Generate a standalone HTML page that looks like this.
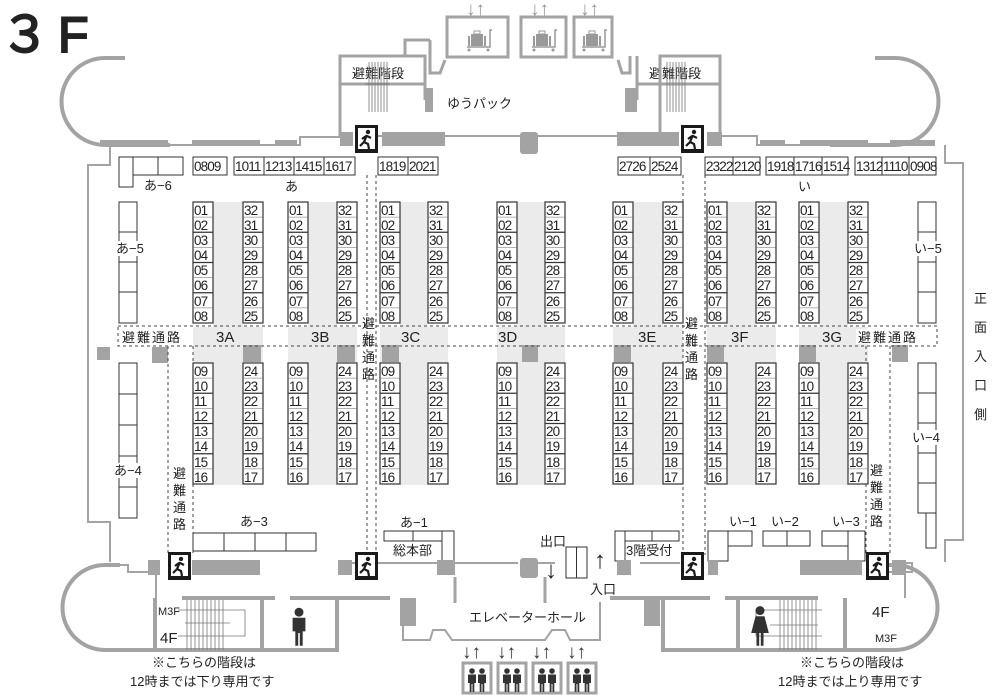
<!DOCTYPE html>
<html><head><meta charset="utf-8"><style>
html,body{margin:0;padding:0;background:#fff;}
svg{display:block;font-family:"Liberation Sans","Noto Sans CJK JP",sans-serif;}
.n{font-size:13.5px;fill:#222;letter-spacing:-0.9px}
.t{font-size:13px;fill:#222}
.w{stroke:#a3a3a3;fill:none}
</style></head><body>
<svg width="1000" height="695" viewBox="0 0 1000 695" xmlns="http://www.w3.org/2000/svg">
<defs>
<g id="col">
<rect x="0" y="0" width="20" height="121" fill="#fff" stroke="#333" stroke-width="1.2"/>
<path d="M0 30.25H20M0 60.5H20M0 90.75H20" stroke="#333" stroke-width="1.2"/>
<path d="M0 15.1H20M0 45.4H20M0 75.6H20M0 105.9H20" stroke="#666" stroke-width="0.5"/>
</g>
<g id="exit">
<rect x="0" y="0" width="23" height="28" fill="#1a1a1a"/>
<rect x="3" y="3" width="17" height="21" fill="#fff"/>
<circle cx="13" cy="7" r="2.2" fill="#1a1a1a"/>
<path d="M12 10 L9 17 L5 21 M9 17 L13 19 L14 24 M11 11 L7 14 M12 11 L16 13" stroke="#1a1a1a" stroke-width="2.2" fill="none"/>
</g>
<g id="lug">
<rect x="-9" y="-6" width="12" height="12" fill="#999"/><rect x="-6" y="-9" width="6" height="3" fill="none" stroke="#999"/>
<rect x="-12" y="-4" width="2" height="10" fill="#999"/><rect x="4" y="-4" width="2" height="10" fill="#999"/>
<path d="M-13 7H10V-10H12" stroke="#999" stroke-width="1.5" fill="none"/>
<circle cx="-11" cy="10" r="1.5" fill="#999"/><circle cx="8" cy="10" r="1.5" fill="#999"/>
</g>
<g id="man"><circle cx="0" cy="-8" r="2.8" fill="#333"/><path d="M-4 -4.5H4V4H2.3V13H0.5V5H-0.5V13H-2.3V4H-4Z" fill="#333"/></g>
<g id="lift"><rect x="0" y="0" width="28" height="30" fill="none" stroke="#a3a3a3" stroke-width="3"/><use href="#man" x="9" y="16"/><use href="#man" x="19" y="16"/>
<text x="-1" y="-5" font-size="19" font-weight="bold" fill="#333">↓↑</text></g>
</defs>

<!-- title -->
<text x="0" y="52" font-size="50" fill="#222" stroke="#222" stroke-width="2" letter-spacing="8">３F</text>

<g fill="#ebebeb">
<rect x="213" y="202" width="30" height="283"/><rect x="193" y="327" width="70" height="36"/>
<rect x="308" y="202" width="29" height="283"/><rect x="288" y="327" width="69" height="36"/>
<rect x="400" y="202" width="28" height="283"/><rect x="380" y="327" width="68" height="36"/>
<rect x="517" y="202" width="28" height="283"/><rect x="497" y="327" width="68" height="36"/>
<rect x="633" y="202" width="30" height="283"/><rect x="613" y="327" width="70" height="36"/>
<rect x="727" y="202" width="29" height="283"/><rect x="707" y="327" width="69" height="36"/>
<rect x="819" y="202" width="29" height="283"/><rect x="799" y="327" width="69" height="36"/>
</g>
<g fill="#a3a3a3">
<rect x="243" y="345" width="18" height="17"/><rect x="337" y="345" width="18" height="17"/>
<rect x="382" y="345" width="17" height="17"/><rect x="522" y="345" width="16" height="17"/>
<rect x="614" y="345" width="17" height="17"/><rect x="707" y="345" width="17" height="17"/>
<rect x="799" y="345" width="17" height="17"/><rect x="892" y="345" width="16" height="17"/>
<rect x="97" y="347" width="13" height="13"/><rect x="152" y="347" width="16" height="16"/>
</g>

<g stroke="#444" stroke-width="1" stroke-dasharray="3,3" fill="none">
<path d="M118 326H937V346H118Z"/>
<path d="M367 175V555M376 175V555M683 175V555M705 175V555"/>
<path d="M168 346V555M193 346V555M866 346V555M890 346V555"/>
</g>
<rect x="120" y="329" width="72" height="15" fill="#fff"/>
<text x="122" y="342" class="t" letter-spacing="2">避難通路</text>
<rect x="856" y="329" width="78" height="15" fill="#fff"/>
<text x="858" y="342" class="t" letter-spacing="2">避難通路</text>
<g class="t">
<text x="362" y="328">避</text><text x="362" y="345">難</text><text x="362" y="362">通</text><text x="362" y="379">路</text>
<text x="685" y="328">避</text><text x="685" y="345">難</text><text x="685" y="362">通</text><text x="685" y="379">路</text>
<text x="173" y="478">避</text><text x="173" y="495">難</text><text x="173" y="512">通</text><text x="173" y="529">路</text>
<text x="870" y="475">避</text><text x="870" y="492">難</text><text x="870" y="509">通</text><text x="870" y="526">路</text>
</g>
<g font-size="15" fill="#222">
<text x="216" y="342">3A</text><text x="311" y="342">3B</text><text x="401" y="342">3C</text>
<text x="498" y="342">3D</text><text x="638" y="342">3E</text><text x="731" y="342">3F</text><text x="822" y="342">3G</text>
</g>

<g>
<use href="#col" x="193" y="202"/><use href="#col" x="243" y="202"/><use href="#col" x="193" y="363"/><use href="#col" x="243" y="363"/>
<use href="#col" x="288" y="202"/><use href="#col" x="337" y="202"/><use href="#col" x="288" y="363"/><use href="#col" x="337" y="363"/>
<use href="#col" x="380" y="202"/><use href="#col" x="428" y="202"/><use href="#col" x="380" y="363"/><use href="#col" x="428" y="363"/>
<use href="#col" x="497" y="202"/><use href="#col" x="545" y="202"/><use href="#col" x="497" y="363"/><use href="#col" x="545" y="363"/>
<use href="#col" x="613" y="202"/><use href="#col" x="663" y="202"/><use href="#col" x="613" y="363"/><use href="#col" x="663" y="363"/>
<use href="#col" x="707" y="202"/><use href="#col" x="756" y="202"/><use href="#col" x="707" y="363"/><use href="#col" x="756" y="363"/>
<use href="#col" x="799" y="202"/><use href="#col" x="848" y="202"/><use href="#col" x="799" y="363"/><use href="#col" x="848" y="363"/>
</g>
<g class="n">
<text y="215"><tspan x="194">01</tspan><tspan x="289">01</tspan><tspan x="381">01</tspan><tspan x="498">01</tspan><tspan x="614">01</tspan><tspan x="708">01</tspan><tspan x="800">01</tspan><tspan x="244">32</tspan><tspan x="338">32</tspan><tspan x="429">32</tspan><tspan x="546">32</tspan><tspan x="664">32</tspan><tspan x="757">32</tspan><tspan x="849">32</tspan></text>
<text y="230"><tspan x="194">02</tspan><tspan x="289">02</tspan><tspan x="381">02</tspan><tspan x="498">02</tspan><tspan x="614">02</tspan><tspan x="708">02</tspan><tspan x="800">02</tspan><tspan x="244">31</tspan><tspan x="338">31</tspan><tspan x="429">31</tspan><tspan x="546">31</tspan><tspan x="664">31</tspan><tspan x="757">31</tspan><tspan x="849">31</tspan></text>
<text y="245"><tspan x="194">03</tspan><tspan x="289">03</tspan><tspan x="381">03</tspan><tspan x="498">03</tspan><tspan x="614">03</tspan><tspan x="708">03</tspan><tspan x="800">03</tspan><tspan x="244">30</tspan><tspan x="338">30</tspan><tspan x="429">30</tspan><tspan x="546">30</tspan><tspan x="664">30</tspan><tspan x="757">30</tspan><tspan x="849">30</tspan></text>
<text y="260"><tspan x="194">04</tspan><tspan x="289">04</tspan><tspan x="381">04</tspan><tspan x="498">04</tspan><tspan x="614">04</tspan><tspan x="708">04</tspan><tspan x="800">04</tspan><tspan x="244">29</tspan><tspan x="338">29</tspan><tspan x="429">29</tspan><tspan x="546">29</tspan><tspan x="664">29</tspan><tspan x="757">29</tspan><tspan x="849">29</tspan></text>
<text y="275"><tspan x="194">05</tspan><tspan x="289">05</tspan><tspan x="381">05</tspan><tspan x="498">05</tspan><tspan x="614">05</tspan><tspan x="708">05</tspan><tspan x="800">05</tspan><tspan x="244">28</tspan><tspan x="338">28</tspan><tspan x="429">28</tspan><tspan x="546">28</tspan><tspan x="664">28</tspan><tspan x="757">28</tspan><tspan x="849">28</tspan></text>
<text y="290"><tspan x="194">06</tspan><tspan x="289">06</tspan><tspan x="381">06</tspan><tspan x="498">06</tspan><tspan x="614">06</tspan><tspan x="708">06</tspan><tspan x="800">06</tspan><tspan x="244">27</tspan><tspan x="338">27</tspan><tspan x="429">27</tspan><tspan x="546">27</tspan><tspan x="664">27</tspan><tspan x="757">27</tspan><tspan x="849">27</tspan></text>
<text y="306"><tspan x="194">07</tspan><tspan x="289">07</tspan><tspan x="381">07</tspan><tspan x="498">07</tspan><tspan x="614">07</tspan><tspan x="708">07</tspan><tspan x="800">07</tspan><tspan x="244">26</tspan><tspan x="338">26</tspan><tspan x="429">26</tspan><tspan x="546">26</tspan><tspan x="664">26</tspan><tspan x="757">26</tspan><tspan x="849">26</tspan></text>
<text y="321"><tspan x="194">08</tspan><tspan x="289">08</tspan><tspan x="381">08</tspan><tspan x="498">08</tspan><tspan x="614">08</tspan><tspan x="708">08</tspan><tspan x="800">08</tspan><tspan x="244">25</tspan><tspan x="338">25</tspan><tspan x="429">25</tspan><tspan x="546">25</tspan><tspan x="664">25</tspan><tspan x="757">25</tspan><tspan x="849">25</tspan></text>
<text y="376"><tspan x="194">09</tspan><tspan x="289">09</tspan><tspan x="381">09</tspan><tspan x="498">09</tspan><tspan x="614">09</tspan><tspan x="708">09</tspan><tspan x="800">09</tspan><tspan x="244">24</tspan><tspan x="338">24</tspan><tspan x="429">24</tspan><tspan x="546">24</tspan><tspan x="664">24</tspan><tspan x="757">24</tspan><tspan x="849">24</tspan></text>
<text y="391"><tspan x="194">10</tspan><tspan x="289">10</tspan><tspan x="381">10</tspan><tspan x="498">10</tspan><tspan x="614">10</tspan><tspan x="708">10</tspan><tspan x="800">10</tspan><tspan x="244">23</tspan><tspan x="338">23</tspan><tspan x="429">23</tspan><tspan x="546">23</tspan><tspan x="664">23</tspan><tspan x="757">23</tspan><tspan x="849">23</tspan></text>
<text y="406"><tspan x="194">11</tspan><tspan x="289">11</tspan><tspan x="381">11</tspan><tspan x="498">11</tspan><tspan x="614">11</tspan><tspan x="708">11</tspan><tspan x="800">11</tspan><tspan x="244">22</tspan><tspan x="338">22</tspan><tspan x="429">22</tspan><tspan x="546">22</tspan><tspan x="664">22</tspan><tspan x="757">22</tspan><tspan x="849">22</tspan></text>
<text y="421"><tspan x="194">12</tspan><tspan x="289">12</tspan><tspan x="381">12</tspan><tspan x="498">12</tspan><tspan x="614">12</tspan><tspan x="708">12</tspan><tspan x="800">12</tspan><tspan x="244">21</tspan><tspan x="338">21</tspan><tspan x="429">21</tspan><tspan x="546">21</tspan><tspan x="664">21</tspan><tspan x="757">21</tspan><tspan x="849">21</tspan></text>
<text y="436"><tspan x="194">13</tspan><tspan x="289">13</tspan><tspan x="381">13</tspan><tspan x="498">13</tspan><tspan x="614">13</tspan><tspan x="708">13</tspan><tspan x="800">13</tspan><tspan x="244">20</tspan><tspan x="338">20</tspan><tspan x="429">20</tspan><tspan x="546">20</tspan><tspan x="664">20</tspan><tspan x="757">20</tspan><tspan x="849">20</tspan></text>
<text y="451"><tspan x="194">14</tspan><tspan x="289">14</tspan><tspan x="381">14</tspan><tspan x="498">14</tspan><tspan x="614">14</tspan><tspan x="708">14</tspan><tspan x="800">14</tspan><tspan x="244">19</tspan><tspan x="338">19</tspan><tspan x="429">19</tspan><tspan x="546">19</tspan><tspan x="664">19</tspan><tspan x="757">19</tspan><tspan x="849">19</tspan></text>
<text y="467"><tspan x="194">15</tspan><tspan x="289">15</tspan><tspan x="381">15</tspan><tspan x="498">15</tspan><tspan x="614">15</tspan><tspan x="708">15</tspan><tspan x="800">15</tspan><tspan x="244">18</tspan><tspan x="338">18</tspan><tspan x="429">18</tspan><tspan x="546">18</tspan><tspan x="664">18</tspan><tspan x="757">18</tspan><tspan x="849">18</tspan></text>
<text y="482"><tspan x="194">16</tspan><tspan x="289">16</tspan><tspan x="381">16</tspan><tspan x="498">16</tspan><tspan x="614">16</tspan><tspan x="708">16</tspan><tspan x="800">16</tspan><tspan x="244">17</tspan><tspan x="338">17</tspan><tspan x="429">17</tspan><tspan x="546">17</tspan><tspan x="664">17</tspan><tspan x="757">17</tspan><tspan x="849">17</tspan></text>
</g>

<g fill="#fff" stroke="#333" stroke-width="1">
<rect x="193" y="157" width="34" height="18"/>
<rect x="234" y="157" width="30" height="18"/><rect x="264" y="157" width="30" height="18"/><rect x="294" y="157" width="30" height="18"/><rect x="324" y="157" width="31" height="18"/>
<rect x="378" y="157" width="30" height="18"/><rect x="408" y="157" width="30" height="18"/>
<rect x="618" y="157" width="32" height="18"/><rect x="650" y="157" width="31" height="18"/>
<rect x="705" y="157" width="28" height="18"/><rect x="733" y="157" width="27" height="18"/>
<rect x="766" y="157" width="28" height="18"/><rect x="794" y="157" width="28" height="18"/><rect x="822" y="157" width="26" height="18"/>
<rect x="855" y="157" width="27" height="18"/><rect x="882" y="157" width="27" height="18"/><rect x="909" y="157" width="27" height="18"/>
<rect x="119" y="157" width="14" height="30"/><rect x="133" y="157" width="25" height="18"/><rect x="158" y="157" width="25" height="18"/>
<rect x="119" y="202" width="18" height="30"/><rect x="119" y="232" width="18" height="30"/><rect x="119" y="262" width="18" height="30"/><rect x="119" y="292" width="18" height="31"/>
<rect x="119" y="363" width="18" height="31"/><rect x="119" y="394" width="18" height="31"/><rect x="119" y="425" width="18" height="31"/><rect x="119" y="456" width="18" height="31"/><rect x="119" y="487" width="18" height="31"/>
<rect x="918" y="202" width="18" height="30"/><rect x="918" y="232" width="18" height="30"/><rect x="918" y="262" width="18" height="30"/><rect x="918" y="292" width="18" height="31"/>
<rect x="918" y="363" width="18" height="30"/><rect x="918" y="393" width="18" height="30"/><rect x="918" y="423" width="18" height="30"/><rect x="918" y="453" width="18" height="30"/><rect x="918" y="483" width="18" height="30"/>
<rect x="926" y="513" width="10" height="35"/>
<rect x="193" y="533" width="31" height="18"/><rect x="224" y="533" width="31" height="18"/><rect x="255" y="533" width="31" height="18"/><rect x="286" y="533" width="30" height="18"/>
<rect x="384" y="531" width="29" height="10"/><rect x="413" y="531" width="29" height="10"/><rect x="442" y="531" width="12" height="30"/>
<rect x="615" y="531" width="10" height="30"/><rect x="625" y="531" width="27" height="10"/><rect x="652" y="531" width="27" height="10"/>
<rect x="708" y="531" width="20" height="30"/><rect x="728" y="531" width="24" height="15"/>
<rect x="763" y="531" width="24" height="15"/><rect x="787" y="531" width="23" height="15"/>
<rect x="822" y="531" width="26" height="15"/><rect x="848" y="531" width="17" height="30"/>
</g>
<g class="n" font-size="12.5">
<text x="194" y="171">0809</text>
<text x="235" y="171">1011</text><text x="265" y="171">1213</text><text x="295" y="171">1415</text><text x="325" y="171">1617</text>
<text x="379" y="171">1819</text><text x="409" y="171">2021</text>
<text x="619" y="171">2726</text><text x="651" y="171">2524</text>
<text x="706" y="171">2322</text><text x="734" y="171">2120</text>
<text x="767" y="171">1918</text><text x="795" y="171">1716</text><text x="823" y="171">1514</text>
<text x="856" y="171">1312</text><text x="883" y="171">1110</text><text x="910" y="171">0908</text>
</g>
<g class="t" font-size="12">
<text x="144" y="190">あ−6</text><text x="285" y="191">あ</text><text x="798" y="191">い</text>
<rect x="114" y="241" width="30" height="15" fill="#fff"/><text x="116" y="253">あ−5</text>
<rect x="114" y="463" width="30" height="15" fill="#fff"/><text x="114" y="475">あ−4</text>
<rect x="913" y="241" width="30" height="15" fill="#fff"/><text x="914" y="253">い−5</text>
<rect x="913" y="430" width="30" height="15" fill="#fff"/><text x="912" y="442">い−4</text>
<text x="240" y="526">あ−3</text><text x="400" y="527">あ−1</text>
<text x="729" y="526">い−1</text><text x="771" y="526">い−2</text><text x="832" y="526">い−3</text>
</g>
<g class="t">
<text x="393" y="555">総本部</text><text x="626" y="555">3階受付</text>
<text x="540" y="546">出口</text><text x="590" y="594">入口</text>
<text x="545" y="578" font-size="24">↓</text><text x="594" y="568" font-size="24">↑</text>
<text x="469" y="622">エレベーターホール</text>
<text x="447" y="108">ゆうパック</text>
<text x="352" y="78">避難階段</text><text x="649" y="78">避難階段</text>
<text x="974" y="303">正</text><text x="974" y="332">面</text><text x="974" y="361">入</text><text x="974" y="390">口</text><text x="974" y="419">側</text>
<text x="152" y="667">※こちらの階段は</text><text x="130" y="686">12時までは下り専用です</text>
<text x="800" y="667">※こちらの階段は</text><text x="778" y="686">12時までは上り専用です</text>
<text x="160" y="643" font-size="15">4F</text><text x="158" y="615" font-size="11">M3F</text>
<text x="872" y="617" font-size="15">4F</text><text x="875" y="642" font-size="11">M3F</text>
</g>
<rect x="566" y="547" width="21" height="31" fill="#fff" stroke="#333"/><path d="M576.5 547V578" stroke="#333"/>

<g class="w" stroke-width="4">
<path d="M125 58H105A43.5 43.5 0 0 0 105 145H170"/>
<path d="M875 58H895A43.5 43.5 0 0 1 895 145H830"/>
<path d="M120 565H105A42.5 42.5 0 0 0 105 650H337V598"/>
<path d="M880 565H895A42.5 42.5 0 0 1 895 650H663V598"/>
<path d="M262 650V598M738 650V598M155 598V650M845 598V650"/>
<path d="M182 598H275M290 598H390M610 598H710M725 598H818"/>
<path d="M340 136V56H425V100M425 84H340" stroke-width="3"/>
<path d="M660 136V56H720V136M637 100V56M637 84H720" stroke-width="3"/>
<path d="M447 17H508V57H447ZM521 17H566V57H521ZM574 17H612V57H574Z" stroke-width="3"/>
<path d="M430 40H405V56M430 40V73H440L445 60M618 60L622 73H630V56" stroke-width="3"/>
<path d="M455 577V603M545 577V603" stroke-width="3"/>
</g>
<g stroke="#a3a3a3" stroke-width="2" fill="none">
<path d="M170 145H300V137H340M378 136H520M538 136H617M722 136H757V145H935"/>
<path d="M110 145V165H88V522H110V562"/><path d="M945 145V163H963V540H945V562"/>
<path d="M120 565H128V572H148M352 563H518M535 563H555M640 563H680M905 563H912V572H880"/>
<path d="M403 602V640H430L433 630H445L452 640H545L552 630H565L570 640H600V602"/>
<path d="M156 575V598M905 575V598M340 56V136M720 56V136"/>
</g>
<g fill="#a3a3a3">
<rect x="100" y="140" width="68" height="6"/><rect x="192" y="140" width="68" height="6"/><rect x="275" y="140" width="22" height="6"/>
<rect x="340" y="132" width="13" height="14"/><rect x="382" y="132" width="63" height="14"/>
<rect x="520" y="132" width="18" height="22" rx="3"/>
<rect x="617" y="132" width="62" height="14"/><rect x="707" y="132" width="15" height="14"/>
<rect x="760" y="140" width="25" height="6"/><rect x="800" y="140" width="68" height="6"/><rect x="890" y="140" width="45" height="6"/>
<rect x="425" y="88" width="8" height="24"/><rect x="625" y="88" width="12" height="24"/>
<rect x="148" y="560" width="12" height="15"/><rect x="192" y="560" width="68" height="15"/><rect x="338" y="560" width="14" height="15"/>
<rect x="437" y="560" width="18" height="15"/><rect x="520" y="558" width="18" height="20" rx="3"/>
<rect x="617" y="560" width="14" height="15"/><rect x="708" y="560" width="10" height="15"/><rect x="800" y="560" width="62" height="15"/><rect x="892" y="560" width="14" height="15"/>
<rect x="400" y="598" width="16" height="28"/><rect x="644" y="598" width="16" height="28"/>
</g>
<g stroke="#777" stroke-width="0.8">
<path d="M369 62V112M372 62V112M375 62V112M378 62V112M381 62V112M384 62V112M387 62V112M365 84H390"/>
<path d="M667 62V112M670 62V112M673 62V112M676 62V112M679 62V112M682 62V112M685 62V112"/>
<path d="M187 600V650M191 600V650M195 600V650M199 600V650M203 600V650M207 600V650M211 600V650M215 600V650M219 600V650M223 600V650"/>
<path d="M780 600V650M784 600V650M788 600V650M792 600V650M796 600V650M800 600V650M804 600V650M808 600V650M812 600V650M816 600V650"/>
<path d="M185 623H230M770 625H818M178 610H245V636H178M822 610H756V636H822" fill="none"/>
</g>
<use href="#exit" x="355" y="125"/><use href="#exit" x="681" y="125"/>
<use href="#exit" x="168" y="552"/><use href="#exit" x="355" y="552"/><use href="#exit" x="681" y="552"/><use href="#exit" x="866" y="552"/>
<use href="#lug" x="480" y="40"/><use href="#lug" x="545" y="40"/><use href="#lug" x="595" y="40"/>
<g font-size="19" fill="#999"><text x="466" y="15">↓↑</text><text x="530" y="15">↓↑</text><text x="580" y="15">↓↑</text></g>
<g transform="translate(299,625) scale(1.6)"><use href="#man"/></g>
<g transform="translate(760,625) scale(1.6)"><circle cx="0" cy="-9" r="2.8" fill="#333"/><path d="M-2.8 -5.5H2.8L5.5 5H2.2V13H0.5V5H-0.5V13H-2.2V5H-5.5Z" fill="#333"/></g>
<use href="#lift" x="463" y="663"/><use href="#lift" x="498" y="663"/><use href="#lift" x="533" y="663"/><use href="#lift" x="568" y="663"/>
</svg>
</body></html>
